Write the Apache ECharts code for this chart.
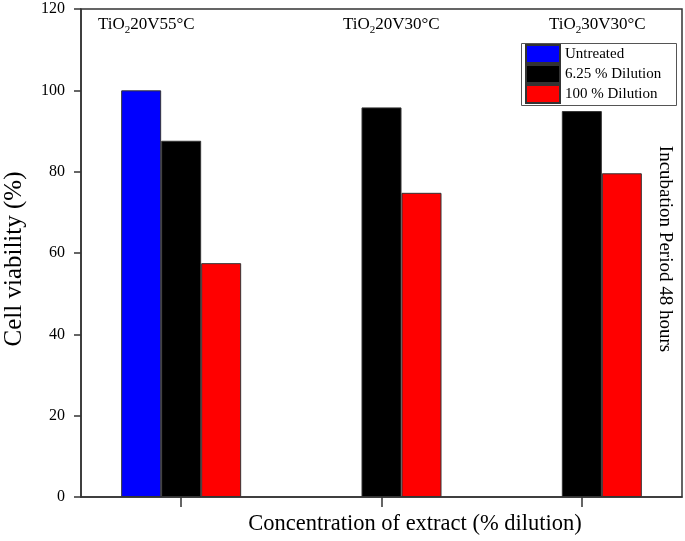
<!DOCTYPE html>
<html>
<head>
<meta charset="utf-8">
<script src="https://cdn.jsdelivr.net/npm/echarts@6/dist/echarts.min.js"></script>
<style>html,body{margin:0;padding:0;background:#fff}#c{width:685px;height:541px}</style>
</head>
<body>
<div id="c"></div>
<script>
var categories = ['TiO2 20V55°C', 'TiO2 20V30°C', 'TiO2 30V30°C'];
var seriesNames = ['Untreated', '6.25 % Dilution', '100 % Dilution'];
var untreated = [100, null, null];
var dil625 = [87.6, 95.8, 94.9];
var dil100 = [57.5, 74.8, 79.6];
var yTicks = [0, 20, 40, 60, 80, 100, 120];

var FONT = "'Liberation Serif','Times New Roman',serif";
var chart = echarts.init(document.getElementById('c'));

function subLabel(x, y, tail) {
  return {
    type: 'text', left: x, top: y,
    style: {
      text: '{a|TiO}{s|2}{a|' + tail + '}',
      rich: {
        a: {fontFamily: FONT, fontSize: 17, fill: '#000', lineHeight: 20, verticalAlign: 'top'},
        s: {fontFamily: FONT, fontSize: 11, fill: '#000', lineHeight: 20, verticalAlign: 'bottom', padding: [12, 0, 0, 0]}
      }
    }
  };
}

var bw = {borderColor: '#333', borderWidth: 1};
chart.setOption({
  animation: false,
  backgroundColor: '#fff',
  grid: {left: 81, right: 3, top: 9, bottom: 44, show: true, borderColor: '#333', borderWidth: 1.5,
    containLabel: false, outerBoundsMode: 'none'},
  xAxis: {
    type: 'category', data: categories,
    axisLine: {lineStyle: {color: '#333', width: 1.5}},
    axisTick: {show: true, alignWithLabel: true, length: 10, lineStyle: {color: '#333', width: 1.5}},
    axisLabel: {show: false}
  },
  yAxis: {
    type: 'value', min: 0, max: 120, interval: 20,
    axisLine: {show: true, lineStyle: {color: '#333', width: 1.5}},
    axisTick: {show: true, length: 7, lineStyle: {color: '#333', width: 1.5}},
    axisLabel: {fontFamily: FONT, fontSize: 16, color: '#000', margin: 16,
      formatter: function (v) { return yTicks.indexOf(v) >= 0 ? String(v) : ''; }},
    splitLine: {show: false}
  },
  legend: {
    orient: 'vertical', left: 525, top: 44, itemWidth: 34, itemHeight: 18, itemGap: 0,
    icon: 'rect', padding: 0,
    textStyle: {fontFamily: FONT, fontSize: 15, color: '#000', padding: [0, 0, 0, 0]},
    data: seriesNames
  },
  series: [
    {name: seriesNames[0], type: 'bar', data: untreated, barWidth: 40, barGap: '0%', itemStyle: Object.assign({color: '#0000FF'}, bw)},
    {name: seriesNames[1], type: 'bar', data: dil625, barWidth: 40, barGap: '0%', itemStyle: Object.assign({color: '#000000'}, bw)},
    {name: seriesNames[2], type: 'bar', data: dil100, barWidth: 40, barGap: '0%', itemStyle: Object.assign({color: '#FF0000'}, bw)}
  ],
  graphic: [
    {type: 'rect', left: 519, top: 41, shape: {width: 155, height: 62}, style: {fill: 'none', stroke: '#555', lineWidth: 1}, z: 10},
    subLabel(98, 13, '20V55°C'),
    subLabel(343, 13, '20V30°C'),
    subLabel(549, 13, '30V30°C'),
    {type: 'text', x: 14, y: 259, rotation: Math.PI / 2,
      style: {text: 'Cell viability (%)', fontFamily: FONT, fontSize: 25, fill: '#000', align: 'center', verticalAlign: 'middle'}},
    {type: 'text', x: 665, y: 249, rotation: -Math.PI / 2,
      style: {text: 'Incubation Period 48 hours', fontFamily: FONT, fontSize: 19, fill: '#000', align: 'center', verticalAlign: 'middle'}},
    {type: 'text', x: 415, y: 524,
      style: {text: 'Concentration of extract (% dilution)', fontFamily: FONT, fontSize: 22.5, fill: '#000', align: 'center', verticalAlign: 'middle'}}
  ]
});
</script>
</body>
</html>
